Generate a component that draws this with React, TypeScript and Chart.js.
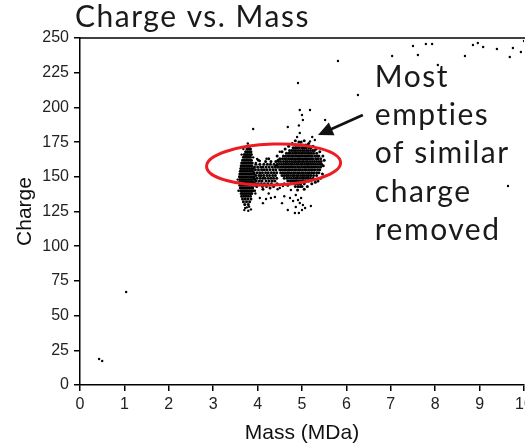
import { useEffect, useRef } from "react";
import { Chart, registerables } from "chart.js";

Chart.register(...registerables);

type Pt = [number, number];
type Row = [number, number[]]; // [charge, masses observed at that charge]

// Axis ranges and ticks
const massTicks = [0, 1, 2, 3, 4, 5, 6, 7, 8, 9, 10];
const chargeTicks = [0, 25, 50, 75, 100, 125, 150, 175, 200, 225, 250];

// Narrow column of ions around 3.75 MDa, listed row by row
const leftColumnRows: Row[] = [
  [172, [3.79, 3.82]],
  [170, [3.76, 3.80, 3.84]],
  [168, [3.73, 3.77, 3.81, 3.85]],
  [166, [3.70, 3.74, 3.78, 3.82, 3.86]],
  [164, [3.68, 3.72, 3.76, 3.80, 3.84]],
  [162, [3.66, 3.70, 3.74, 3.78, 3.82, 3.86]],
  [160, [3.64, 3.68, 3.72, 3.76, 3.80, 3.84, 3.88]],
  [158, [3.63, 3.67, 3.71, 3.75, 3.79, 3.83, 3.87]],
  [156, [3.62, 3.66, 3.70, 3.74, 3.78, 3.82, 3.86, 3.90]],
  [154, [3.61, 3.65, 3.69, 3.73, 3.77, 3.81, 3.85, 3.89]],
  [152, [3.60, 3.64, 3.68, 3.72, 3.76, 3.80, 3.84, 3.88, 3.92]],
  [150, [3.59, 3.63, 3.67, 3.71, 3.75, 3.79, 3.83, 3.87, 3.91]],
  [148, [3.60, 3.64, 3.68, 3.72, 3.76, 3.80, 3.84, 3.88, 3.93]],
  [146, [3.59, 3.63, 3.67, 3.71, 3.75, 3.79, 3.83, 3.87, 3.91]],
  [144, [3.60, 3.64, 3.68, 3.72, 3.76, 3.80, 3.84, 3.88, 3.92]],
  [142, [3.61, 3.65, 3.69, 3.73, 3.77, 3.81, 3.85, 3.89]],
  [140, [3.62, 3.66, 3.70, 3.74, 3.78, 3.82, 3.86, 3.90]],
  [138, [3.63, 3.67, 3.71, 3.75, 3.79, 3.83, 3.87]],
  [136, [3.64, 3.69, 3.74, 3.79, 3.84]],
  [134, [3.66, 3.72, 3.78, 3.85]],
  [132, [3.68, 3.75, 3.82]],
  [130, [3.71, 3.79]],
];

// Bridge of ions between the two populations
const middleBandRows: Row[] = [
  [163, [4.25]],
  [162, [4.02, 4.46]],
  [161, [4.18, 4.30, 4.41]],
  [159, [3.96, 4.05, 4.14, 4.22, 4.29, 4.37, 4.44]],
  [157, [3.93, 4.00, 4.07, 4.12, 4.19, 4.26, 4.33, 4.39, 4.45]],
  [155, [3.95, 4.02, 4.09, 4.15, 4.21, 4.28, 4.35, 4.41]],
  [153, [3.92, 3.99, 4.05, 4.11, 4.18, 4.24, 4.31, 4.37, 4.43]],
  [151, [3.96, 4.03, 4.08, 4.14, 4.21, 4.27, 4.34, 4.40]],
  [149, [3.93, 3.99, 4.06, 4.12, 4.17, 4.24, 4.30, 4.36, 4.43]],
  [147, [3.97, 4.04, 4.10, 4.19, 4.26, 4.33, 4.39]],
  [145, [3.95, 4.01, 4.08, 4.15, 4.23, 4.31, 4.44]],
  [143, [3.98, 4.11, 4.20, 4.36]],
  [142, [4.28]],
  [141, [4.12]],
];

// Dense population around 4.9 MDa
const rightBlobRows: Row[] = [
  [176, [4.85, 5.05]],
  [175, [4.93, 4.98]],
  [174, [4.78, 5.15]],
  [173, [4.86, 4.91, 4.97, 5.02, 5.08, 5.12]],
  [172, [4.70, 5.25]],
  [171, [4.80, 4.85, 4.89, 4.94, 5.00, 5.04, 5.09, 5.15, 5.20]],
  [170, [4.62, 5.32]],
  [169, [4.72, 4.77, 4.82, 4.86, 4.91, 4.96, 5.01, 5.05, 5.10, 5.14, 5.19, 5.24, 5.28]],
  [168, [4.55, 5.40]],
  [167, [4.65, 4.70, 4.74, 4.79, 4.84, 4.88, 4.93, 4.98, 5.02, 5.07, 5.12, 5.16, 5.21, 5.26, 5.33]],
  [165, [4.44, 4.58, 4.63, 4.68, 4.72, 4.77, 4.81, 4.86, 4.91, 4.95, 5.00, 5.05, 5.09, 5.14, 5.18, 5.23, 5.29, 5.34, 5.38, 5.47]],
  [163, [4.50, 4.56, 4.61, 4.65, 4.70, 4.75, 4.79, 4.84, 4.89, 4.93, 4.97, 5.02, 5.07, 5.11, 5.16, 5.21, 5.25, 5.31, 5.36, 5.42]],
  [162, [5.50]],
  [161, [4.47, 4.52, 4.58, 4.63, 4.67, 4.72, 4.77, 4.82, 4.86, 4.91, 4.95, 5.00, 5.04, 5.09, 5.13, 5.18, 5.23, 5.28, 5.33, 5.38, 5.43]],
  [159, [4.49, 4.54, 4.59, 4.64, 4.69, 4.74, 4.78, 4.83, 4.88, 4.92, 4.97, 5.01, 5.06, 5.11, 5.15, 5.20, 5.25, 5.30, 5.35, 5.40, 5.44]],
  [158, [4.42, 5.48]],
  [157, [4.47, 4.52, 4.57, 4.62, 4.66, 4.71, 4.76, 4.80, 4.85, 4.90, 4.94, 4.99, 5.04, 5.08, 5.13, 5.17, 5.22, 5.27, 5.32, 5.37, 5.42]],
  [155, [4.50, 4.55, 4.60, 4.64, 4.69, 4.73, 4.78, 4.83, 4.87, 4.92, 4.96, 5.01, 5.06, 5.10, 5.15, 5.20, 5.24, 5.29, 5.35, 5.40]],
  [153, [4.52, 4.57, 4.62, 4.67, 4.71, 4.76, 4.81, 4.85, 4.90, 4.94, 4.99, 5.03, 5.08, 5.13, 5.17, 5.22, 5.27, 5.33, 5.38]],
  [152, [5.46]],
  [151, [4.55, 4.60, 4.65, 4.69, 4.74, 4.79, 4.83, 4.88, 4.92, 4.97, 5.02, 5.06, 5.11, 5.15, 5.20, 5.26, 5.33]],
  [149, [4.60, 4.66, 4.71, 4.76, 4.81, 4.86, 4.90, 4.95, 5.00, 5.04, 5.09, 5.14, 5.19, 5.25, 5.42]],
  [147, [4.68, 4.74, 4.79, 4.84, 4.88, 4.93, 4.98, 5.03, 5.08, 5.15, 5.36]],
  [146, [5.30]],
  [145, [4.60, 4.75, 4.81, 4.87, 4.92, 4.97, 5.05, 5.22]],
  [144, [4.68]],
  [143, [4.85, 4.91, 4.96, 5.00, 5.12]],
  [141, [5.05]],
  [140.5, [4.90]],
];

// Low-charge tail and loose ions at the edges of the populations
const lowerTail: Pt[] = [
  [4.50, 141.9], [4.57, 143.4], [4.75, 140.5], [4.86, 136.9], [4.91, 133.3], [4.98, 134.7], [4.95, 131.1],
  [5.02, 129.7], [4.86, 128.2], [5.07, 127.5], [4.80, 132.6], [4.73, 134.7], [5.20, 129.0], [4.93, 123.9],
  [4.68, 126.1], [4.84, 123.9], [5.00, 126.1], [4.05, 134.7], [4.19, 134.0], [4.30, 134.7], [4.39, 135.4],
  [4.12, 131.0], [4.25, 138.0], [3.95, 138.0], [4.45, 141.0], [4.60, 136.0], [4.55, 131.0], [3.99, 162.8],
  [4.05, 161.4], [4.20, 163.0], [4.50, 168.0], [3.55, 148.0], [3.57, 140.0], [3.94, 140.0], [3.96, 160.0],
  [3.76, 128.0], [3.72, 127.5], [3.81, 128.5], [3.79, 125.5], [3.70, 126.0], [3.85, 126.5], [3.64, 166.0],
  [3.78, 174.0], [3.68, 170.0], [3.90, 164.0],
];

// Sparse ions away from the main populations
const outliers: Pt[] = [
  [7.50, 244.2], [7.79, 245.7], [7.93, 245.7], [7.61, 237.8], [7.03, 237.0], [5.81, 233.4], [8.67, 237.0],
  [8.85, 245.0], [8.96, 246.4], [9.08, 243.5], [9.39, 242.1], [9.75, 242.8], [9.93, 239.9], [10.0, 247.8],
  [9.68, 236.3], [8.06, 230.5], [4.91, 217.6], [6.26, 208.9], [4.95, 198.1], [5.00, 194.5], [5.18, 198.1],
  [5.02, 190.9], [5.52, 190.9], [3.90, 184.4], [4.68, 185.9], [4.89, 178.7], [4.95, 181.6], [5.23, 178.7],
  [5.29, 176.5], [5.18, 175.5], [4.93, 187.0], [9.64, 143.4], [0.43, 18.7], [0.50, 17.3], [1.04, 67.0],
];

// Annotation geometry in data units
const ellipseCenter: Pt = [4.36, 158.8];
const ellipseRadii: Pt = [1.51, 14.8];
const arrowFrom: Pt = [6.37, 194.5];
const arrowTo: Pt = [5.36, 180.1];
const noteAnchor: Pt = [6.64, 215];
const noteLines = ["Most", "empties", "of similar", "charge", "removed"];

const chartTitle = "Charge vs. Mass";
const xTitle = "Mass (MDa)";
const yTitle = "Charge";

const expand = (rows: Row[]): Pt[] => rows.flatMap(([c, ms]) => ms.map((m) => [m, c] as Pt));
const clusterPoints = [...expand(leftColumnRows), ...expand(middleBandRows), ...expand(rightBlobRows)];
const sparsePoints = [...lowerTail, ...outliers];

const AXIS_FONT = "'Liberation Sans', Arial, sans-serif";
const NOTE_FONT = "Lato, 'Open Sans', sans-serif";

const decorations = {
  id: "decorations",
  afterDatasetsDraw(chart: any) {
    const { ctx, chartArea, scales } = chart;
    const xs = scales.x;
    const ys = scales.y;
    ctx.save();

    // top frame line
    ctx.strokeStyle = "#000";
    ctx.lineWidth = 1.5;
    ctx.beginPath();
    ctx.moveTo(chartArea.left, chartArea.top);
    ctx.lineTo(chartArea.right + 20, chartArea.top);
    ctx.stroke();

    // red ellipse around the main populations
    const cx = xs.getPixelForValue(ellipseCenter[0]);
    const cy = ys.getPixelForValue(ellipseCenter[1]);
    const rx = Math.abs(xs.getPixelForValue(ellipseCenter[0] + ellipseRadii[0]) - cx);
    const ry = Math.abs(ys.getPixelForValue(ellipseCenter[1] + ellipseRadii[1]) - cy);
    ctx.strokeStyle = "#ec1c24";
    ctx.lineWidth = 3;
    ctx.beginPath();
    ctx.ellipse(cx, cy, rx, ry, -0.03, 0, Math.PI * 2);
    ctx.stroke();

    // arrow pointing at the cluster
    const x0 = xs.getPixelForValue(arrowFrom[0]);
    const y0 = ys.getPixelForValue(arrowFrom[1]);
    const x1 = xs.getPixelForValue(arrowTo[0]);
    const y1 = ys.getPixelForValue(arrowTo[1]);
    const ang = Math.atan2(y1 - y0, x1 - x0);
    const headLen = 15;
    const headHalf = 7;
    const bx = x1 - headLen * Math.cos(ang);
    const by = y1 - headLen * Math.sin(ang);
    ctx.strokeStyle = "#111";
    ctx.lineWidth = 2.6;
    ctx.beginPath();
    ctx.moveTo(x0, y0);
    ctx.lineTo(bx + 2 * Math.cos(ang), by + 2 * Math.sin(ang));
    ctx.stroke();
    ctx.fillStyle = "#111";
    ctx.beginPath();
    ctx.moveTo(x1, y1);
    ctx.lineTo(bx - headHalf * Math.sin(ang), by + headHalf * Math.cos(ang));
    ctx.lineTo(bx + headHalf * Math.sin(ang), by - headHalf * Math.cos(ang));
    ctx.closePath();
    ctx.fill();

    // note text
    const tx = xs.getPixelForValue(noteAnchor[0]);
    const ty = ys.getPixelForValue(noteAnchor[1]);
    ctx.font = `400 30px ${NOTE_FONT}`;
    (ctx as any).letterSpacing = "1.5px";
    ctx.fillStyle = "#1a1a1a";
    ctx.textAlign = "left";
    ctx.textBaseline = "alphabetic";
    noteLines.forEach((line, i) => ctx.fillText(line, tx, ty + i * 38.4));

    // chart title
    ctx.fillText(chartTitle, chartArea.left - 5, chartArea.top - 11);
    ctx.restore();
  },
};

export default function App() {
  const canvasRef = useRef<HTMLCanvasElement | null>(null);

  useEffect(() => {
    if (!canvasRef.current) return;
    const chart = new Chart(canvasRef.current, {
      type: "scatter",
      data: {
        datasets: [
          {
            label: "Cluster",
            data: clusterPoints.map(([x, y]) => ({ x, y })),
            pointRadius: 1.5,
            pointHoverRadius: 1.5,
            pointBorderWidth: 0,
            pointBackgroundColor: "#000",
            pointBorderColor: "#000",
          },
          {
            label: "Sparse",
            data: sparsePoints.map(([x, y]) => ({ x, y })),
            pointRadius: 1.2,
            pointHoverRadius: 1.2,
            pointBorderWidth: 0,
            pointBackgroundColor: "#000",
            pointBorderColor: "#000",
          },
        ],
      },
      options: {
        animation: false,
        responsive: false,
        devicePixelRatio: 1,
        layout: { padding: { top: 38, right: 21, bottom: 0, left: 0 } },
        plugins: { legend: { display: false }, tooltip: { enabled: false }, title: { display: false } },
        scales: {
          x: {
            type: "linear",
            min: massTicks[0],
            max: massTicks[massTicks.length - 1],
            afterBuildTicks: (scale: any) => {
              scale.ticks = massTicks.map((v) => ({ value: v }));
            },
            afterFit: (scale: any) => {
              scale.height = 61;
            },
            ticks: {
              color: "#222",
              font: { family: AXIS_FONT, size: 16 },
              padding: 4,
              maxRotation: 0,
              autoSkip: false,
            },
            grid: { drawOnChartArea: false, drawTicks: true, tickLength: 6, color: "#000", lineWidth: 1.5 },
            border: { display: true, color: "#000", width: 1.5 },
            title: {
              display: true,
              text: xTitle,
              color: "#111",
              font: { family: AXIS_FONT, size: 21 },
              padding: { top: 0, bottom: 0 },
            },
          },
          y: {
            type: "linear",
            min: chargeTicks[0],
            max: chargeTicks[chargeTicks.length - 1],
            afterBuildTicks: (scale: any) => {
              scale.ticks = chargeTicks.map((v) => ({ value: v }));
            },
            afterFit: (scale: any) => {
              scale.width = 80;
            },
            ticks: {
              color: "#222",
              font: { family: AXIS_FONT, size: 16 },
              padding: 5,
              autoSkip: false,
            },
            grid: { drawOnChartArea: false, drawTicks: true, tickLength: 6, color: "#000", lineWidth: 1.5 },
            border: { display: true, color: "#000", width: 1.5 },
            title: {
              display: true,
              text: yTitle,
              color: "#111",
              font: { family: AXIS_FONT, size: 21 },
              padding: { top: 13, bottom: 0 },
            },
          },
        },
      },
      plugins: [decorations],
    });
    return () => chart.destroy();
  }, []);

  return (
    <div
      style={{
        position: "fixed",
        left: 0,
        top: 0,
        width: 525,
        height: 446,
        overflow: "hidden",
        background: "#fff",
      }}
    >
      <canvas ref={canvasRef} width={545} height={446} style={{ display: "block" }} />
    </div>
  );
}
